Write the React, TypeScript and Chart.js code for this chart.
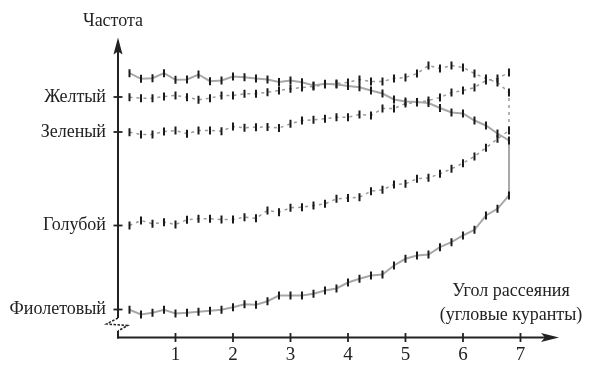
import { useEffect, useRef } from "react";
import { Chart, registerables } from "chart.js";

Chart.register(...registerables);

// Scattering angle (x) of each measurement
const angles = [
  0.2, 0.4, 0.6, 0.8, 1.0, 1.2, 1.4, 1.6, 1.8, 2.0, 2.2, 2.4, 2.6, 2.8, 3.0, 3.2, 3.4,
  3.6, 3.8, 4.0, 4.2, 4.4, 4.6, 4.8, 5.0, 5.2, 5.4, 5.6, 5.8, 6.0, 6.2, 6.4, 6.6, 6.8,
];

// Series values (arbitrary frequency units)
const violet = [
  27.7, 23, 24.7, 27.7, 24, 24.7, 25.7, 26.7, 27.7, 30.3, 33.3, 32.7, 36.3, 42, 42, 42, 43.7,
  47, 49, 55, 58.7, 62, 63, 72, 78.7, 82, 83, 90.3, 95.3, 102, 107.7, 122, 128.7, 142,
];
const topSolid = [
  264.3, 258.7, 259.3, 264.3, 257.7, 258, 263, 256.3, 257, 261, 260.3, 259, 258, 255.5, 257,
  255.3, 252, 253.7, 253, 251.5, 250.3, 247, 244, 238, 236, 235.5, 234.5, 229.5, 225, 224, 217,
  212, 204, 197,
];
const blue = [
  112, 117, 113.7, 115.3, 113, 117.7, 118.7, 118.7, 118, 118, 120.3, 119.3, 127, 125.3, 129.7,
  130.3, 132, 133.7, 138.7, 139.5, 140.3, 146.3, 147.7, 153, 153.7, 158.7, 159.7, 163.7, 168.7,
  174.3, 181, 189.7, 198.7, 207,
];
const yellow = [
  240.3, 239.3, 239.3, 241, 242, 240.3, 237.7, 239.3, 242, 242, 243.7, 243.7, 245.3, 247, 248.7,
  250, 251, 253, 254, 255, 258, 256, 256, 259, 260, 264, 272, 269, 272, 270, 264, 259, 255, 245,
];
const green = [
  205.3, 203, 203, 206, 207, 203.7, 207, 207, 206.3, 211, 209.7, 210.3, 210.5, 209.5, 213.7, 217,
  217.7, 218.7, 220.3, 220.3, 223, 222, 229, 229, 234, 235, 237, 240, 245, 247, 250, 257, 259, 265,
];

// Axis tick labels
const xTickValues = [1, 2, 3, 4, 5, 6, 7];
const yTickValues = [28, 112, 205.5, 240.5];
const yTickLabels = ["Фиолетовый", "Голубой", "Зеленый", "Желтый"];
const yTitle = "Частота";
const xTitle = ["Угол рассеяния", "(угловые куранты)"];

const X_MAX = 7.67;
const Y_MAX = 300;
const FONT = '"Liberation Serif", "DejaVu Serif", serif';

const pts = (ys: number[]) => angles.map((x, i) => ({ x, y: ys[i] }));

const axesPlugin = {
  id: "drawnAxes",
  beforeDatasetsDraw(chart: any) {
    const { ctx, scales } = chart;
    const xs = scales.x;
    const ys = scales.y;
    const x0 = xs.getPixelForValue(0);
    const y0 = ys.getPixelForValue(0);
    const xEnd = xs.getPixelForValue(X_MAX);
    const yTop = ys.getPixelForValue(Y_MAX);
    ctx.save();
    ctx.strokeStyle = "#222";
    ctx.fillStyle = "#222";
    ctx.lineWidth = 2;
    // y axis (upper part)
    ctx.beginPath();
    ctx.moveTo(x0, yTop + 12);
    ctx.lineTo(x0, y0 - 19.5);
    ctx.stroke();
    // lower stub
    ctx.beginPath();
    ctx.moveTo(x0, y0 - 6.5);
    ctx.lineTo(x0, y0 + 1);
    ctx.stroke();
    // break zigzag
    ctx.lineWidth = 1.5;
    ctx.setLineDash([2.5, 1.5]);
    ctx.beginPath();
    ctx.moveTo(x0, y0 - 19.5);
    ctx.lineTo(x0 - 11.5, y0 - 13.5);
    ctx.lineTo(x0 + 9.5, y0 - 12);
    ctx.lineTo(x0, y0 - 6.5);
    ctx.stroke();
    ctx.setLineDash([]);
    ctx.lineWidth = 2;
    // x axis
    ctx.beginPath();
    ctx.moveTo(x0 - 1, y0);
    ctx.lineTo(xEnd - 10, y0);
    ctx.stroke();
    // arrowheads
    ctx.beginPath();
    ctx.moveTo(x0, yTop);
    ctx.lineTo(x0 - 4.5, yTop + 17);
    ctx.lineTo(x0, yTop + 14);
    ctx.lineTo(x0 + 4.5, yTop + 17);
    ctx.closePath();
    ctx.fill();
    ctx.beginPath();
    ctx.moveTo(xEnd, y0);
    ctx.lineTo(xEnd - 18, y0 - 4.5);
    ctx.lineTo(xEnd - 14, y0);
    ctx.lineTo(xEnd - 18, y0 + 4.5);
    ctx.closePath();
    ctx.fill();
    // tick marks
    ctx.lineWidth = 1.8;
    xTickValues.forEach((v) => {
      const px = xs.getPixelForValue(v);
      ctx.beginPath();
      ctx.moveTo(px, y0 - 4.5);
      ctx.lineTo(px, y0 + 4.5);
      ctx.stroke();
    });
    yTickValues.forEach((v) => {
      const py = ys.getPixelForValue(v);
      ctx.beginPath();
      ctx.moveTo(x0 - 4.5, py);
      ctx.lineTo(x0 + 4.5, py);
      ctx.stroke();
    });
    // titles
    ctx.font = `18px ${FONT}`;
    ctx.textAlign = "center";
    ctx.textBaseline = "middle";
    ctx.fillText(yTitle, x0 - 5, 21);
    ctx.fillText(xTitle[0], 511, 291);
    ctx.fillText(xTitle[1], 511, 315);
    ctx.restore();
  },
};

export default function App() {
  const ref = useRef<HTMLCanvasElement | null>(null);
  useEffect(() => {
    if (!ref.current) return;
    const tick = { pointStyle: "line", pointRadius: 4, pointRotation: 90, pointBorderWidth: 2, pointBorderColor: "#1a1a1a", pointBackgroundColor: "#1a1a1a" };
    const chart = new Chart(ref.current, {
      type: "line",
      data: {
        datasets: [
          {
            label: "violet-top",
            data: pts(violet).concat(pts(topSolid).reverse()),
            borderColor: "#a8a8a8",
            borderWidth: 2,
            ...tick,
          },
          {
            label: "blue-yellow",
            data: pts(blue).concat(pts(yellow).reverse()),
            borderColor: "#9a9a9a",
            borderWidth: 1.5,
            borderDash: [3, 4],
            ...tick,
          },
          {
            label: "green",
            data: pts(green),
            borderColor: "#9a9a9a",
            borderWidth: 1.5,
            borderDash: [3, 4],
            ...tick,
          },
        ] as any,
      },
      options: {
        animation: false,
        responsive: true,
        maintainAspectRatio: false,
        layout: { padding: { top: 37.5, right: 34, left: 0, bottom: 0 } },
        plugins: { legend: { display: false }, tooltip: { enabled: false } },
        elements: { line: { tension: 0 } },
        scales: {
          x: {
            type: "linear",
            min: 0,
            max: X_MAX,
            grid: { display: false, drawTicks: false },
            border: { display: false },
            afterBuildTicks: (s: any) => {
              s.ticks = xTickValues.map((value) => ({ value }));
            },
            afterFit: (s: any) => {
              s.height = 32.5;
            },
            ticks: {
              padding: 6,
              color: "#222",
              font: { family: FONT, size: 19 },
              callback: (v: any) => String(v),
            },
          },
          y: {
            type: "linear",
            min: 0,
            max: Y_MAX,
            grid: { display: false, drawTicks: false },
            border: { display: false },
            afterBuildTicks: (s: any) => {
              s.ticks = yTickValues.map((value) => ({ value }));
            },
            afterFit: (s: any) => {
              s.width = 118;
            },
            ticks: {
              padding: 12,
              color: "#222",
              font: { family: FONT, size: 18 },
              callback: (v: any) => {
                const i = yTickValues.indexOf(Number(v));
                return i >= 0 ? yTickLabels[i] : "";
              },
            },
          },
        },
      },
      plugins: [axesPlugin],
    });
    return () => chart.destroy();
  }, []);
  return (
    <div style={{ position: "fixed", left: 0, top: 0, width: 593, height: 370, background: "#fff" }}>
      <canvas ref={ref} />
    </div>
  );
}
